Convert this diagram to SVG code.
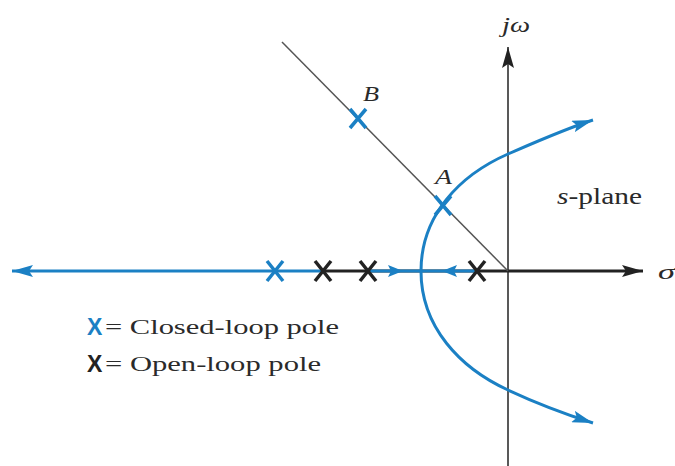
<svg xmlns="http://www.w3.org/2000/svg" width="675" height="466" viewBox="0 0 675 466">
<style>
.ax{stroke:#222;fill:none}
.loc{stroke:#1b80c4;fill:none;stroke-width:3}
.xb{stroke:#1b80c4;stroke-width:3.5;fill:none}
.xk{stroke:#222;stroke-width:3.5;fill:none}
.lab{font-family:"Liberation Serif",serif;fill:#2a2a2a}
.it{font-style:italic}
.sym{font-family:"Liberation Sans",sans-serif;font-weight:bold}
</style>
<defs>
<marker id="ab" viewBox="0 0 21 12" refX="21" refY="6" markerWidth="21" markerHeight="12" markerUnits="userSpaceOnUse" orient="auto">
<path d="M0,0 L21,6 L0,12 L4,6 z" fill="#1b80c4"/>
</marker>
<marker id="ak" viewBox="0 0 21 12" refX="21" refY="6" markerWidth="21" markerHeight="12" markerUnits="userSpaceOnUse" orient="auto">
<path d="M0,0 L21,6 L0,12 L4,6 z" fill="#222"/>
</marker>
</defs>
<g id="connectors">
<path class="ax" stroke-width="1.5" d="M508,466 L508,47" marker-end="url(#ak)"/>
<path class="ax" stroke-width="3" d="M322,271 L643,271" marker-end="url(#ak)"/>
<path d="M282,42 L508,271" stroke="#555" stroke-width="1.5" fill="none"/>
<path class="loc" d="M322,271 L12,271" marker-end="url(#ab)"/>
<path class="loc" d="M368,271 L478,271"/>
<path d="M388,265 L403,271 L388,277 L391,271 z" fill="#1b80c4"/>
<path d="M457,265 L442,271 L457,277 L454,271 z" fill="#1b80c4"/>
<path class="loc" d="M421,271 C421,215 460,175 508,154 C538,141 565,129 593,120" marker-end="url(#ab)"/>
<path class="loc" d="M421,271 C421,327 460,368 508,390 C538,404 565,414 593,423" marker-end="url(#ab)"/>
</g>
<g id="poleB"><path class="xb" d="M350,109 L366,128 M366,109 L350,128"/></g>
<g id="poleA"><path class="xb" d="M435,196 L451,215 M451,196 L435,215"/></g>
<g id="pole1"><path class="xb" d="M267,261 L283,281 M283,261 L267,281"/></g>
<g id="pole2"><path class="xk" d="M315,261 L331,281 M331,261 L315,281"/></g>
<g id="pole3"><path class="xk" d="M360,261 L376,281 M376,261 L360,281"/></g>
<g id="pole4"><path class="xk" d="M469,261 L485,281 M485,261 L469,281"/></g>
<g id="labels">
<text class="lab it" x="502" y="32" font-size="22" textLength="28" lengthAdjust="spacingAndGlyphs">jω</text>
<text class="lab it" x="658" y="279" font-size="22" textLength="17" lengthAdjust="spacingAndGlyphs">σ</text>
<text class="lab it" x="363" y="101" font-size="21" textLength="16" lengthAdjust="spacingAndGlyphs">B</text>
<text class="lab it" x="435" y="184" font-size="21" textLength="17" lengthAdjust="spacingAndGlyphs">A</text>
<text class="lab" x="557" y="204" font-size="23" textLength="85" lengthAdjust="spacingAndGlyphs"><tspan class="it">s</tspan>-plane</text>
</g>
<g id="legend">
<text class="sym" x="87" y="335" font-size="23" fill="#1b80c4">X</text>
<text class="lab" x="105" y="334" font-size="22" textLength="234" lengthAdjust="spacingAndGlyphs">= Closed-loop pole</text>
<text class="sym" x="87" y="372" font-size="23" fill="#222">X</text>
<text class="lab" x="105" y="371" font-size="22" textLength="216" lengthAdjust="spacingAndGlyphs">= Open-loop pole</text>
</g>
</svg>
